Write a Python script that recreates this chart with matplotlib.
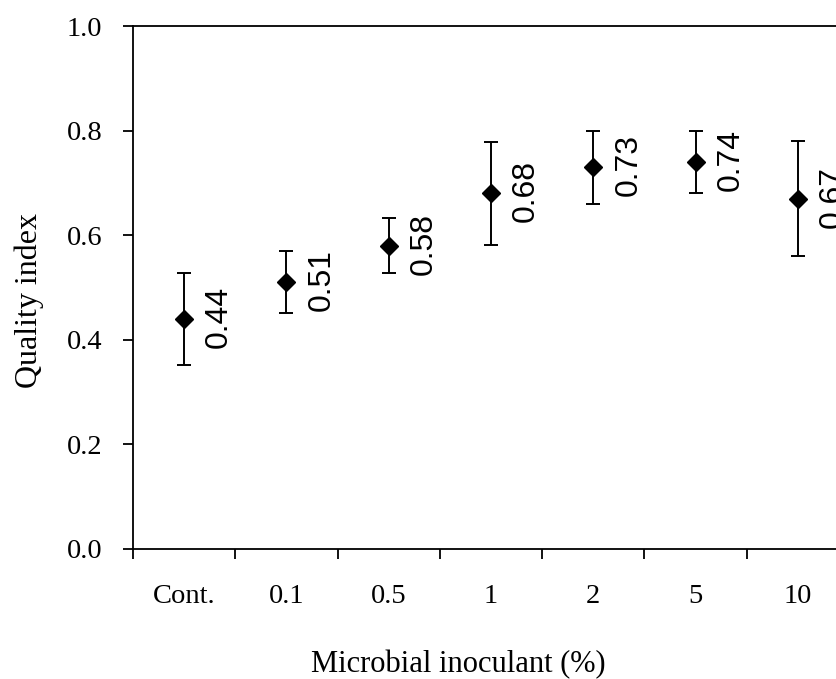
import matplotlib
matplotlib.use("Agg")
import matplotlib.pyplot as plt
import numpy as np

categories = ["Cont.", "0.1", "0.5", "1", "2", "5", "10"]
values = [0.44, 0.51, 0.58, 0.68, 0.73, 0.74, 0.67]
errors = [0.088, 0.059, 0.052, 0.099, 0.070, 0.059, 0.110]
yticks = [0.0, 0.2, 0.4, 0.6, 0.8, 1.0]

serif = "Liberation Serif"
sans = "Liberation Sans"

fig = plt.figure(figsize=(8.37, 6.79), dpi=100)
W, H = 837, 679
left_px, right_px, top_px, bottom_px = 133, 133 + 7 * 102.3, 26, 549
ax = fig.add_axes([left_px / W, (H - bottom_px) / H,
                   (right_px - left_px) / W, (bottom_px - top_px) / H])

x = np.arange(len(categories))
ax.errorbar(x, values, yerr=errors, fmt="D", color="black", markersize=9,
            ecolor="black", elinewidth=1.4, capsize=4.8, capthick=1.4)

for xi, v in zip(x, values):
    ax.annotate(f"{v:.2f}", xy=(xi, v), xytext=(20, 2), textcoords="offset pixels",
                rotation=90, ha="left", va="center", fontsize=23, family=sans)

ax.set_xlim(-0.5, len(categories) - 0.5)
ax.set_ylim(0, 1.0)
ax.set_yticks(yticks)
ax.set_yticklabels([f"{t:.1f}" for t in yticks], family=serif, fontsize=20.5)
ax.set_xticks(x)
ax.set_xticklabels(categories, family=serif, fontsize=20.5)
ax.set_xticks(np.arange(-0.5, len(categories) + 0.5, 1.0), minor=True)
ax.tick_params(axis="x", which="major", length=0, pad=25)
ax.tick_params(axis="x", which="minor", length=7.2, width=1.3, direction="out")
ax.tick_params(axis="y", which="major", length=7.2, width=1.3, direction="out", pad=15)

for s in ax.spines.values():
    s.set_linewidth(1.3)
    s.set_color("black")

fig.text(458 / W, (H - 672) / H, "Microbial inoculant (%)", family=serif,
         fontsize=22, ha="center", va="baseline")
fig.text(29 / W, (H - 301) / H, "Quality index", family=serif, fontsize=23,
         rotation=90, ha="center", va="center")

fig.savefig("out.png", dpi=100)
